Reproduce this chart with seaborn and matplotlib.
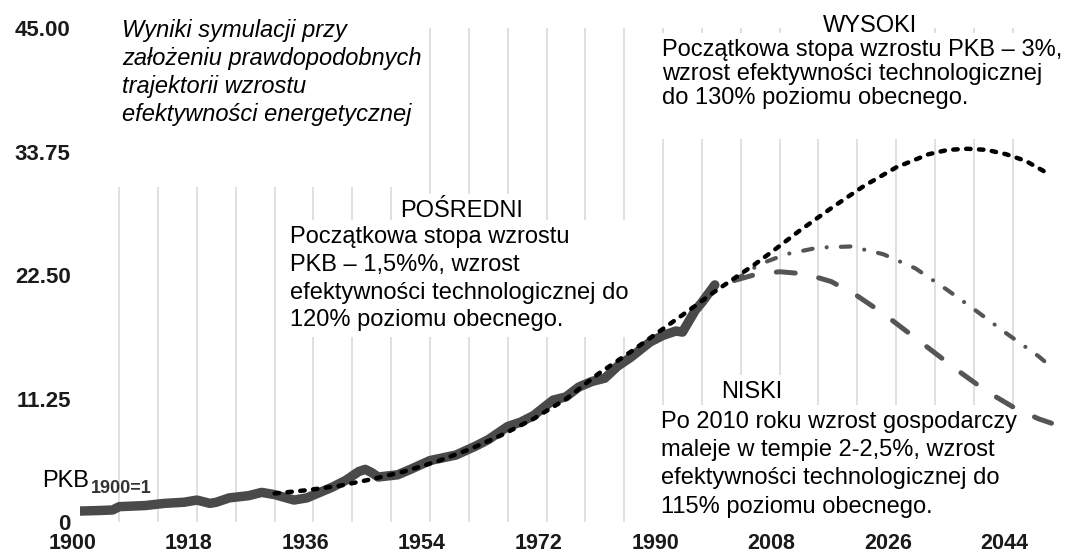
import numpy as np
import pandas as pd
import seaborn as sns
import matplotlib.pyplot as plt
from matplotlib.transforms import ScaledTranslation

# historical GDP index (1900 = 1)
hist_years = [1900, 1903, 1905, 1906, 1910, 1913, 1916, 1918, 1920, 1921, 1923, 1926,
              1928, 1930, 1933, 1935, 1937, 1939, 1941, 1943, 1944, 1945, 1946, 1949,
              1951, 1954, 1958, 1961, 1963, 1966, 1968, 1970, 1973, 1975, 1977, 1979,
              1981, 1983, 1985, 1988, 1990, 1992, 1993, 1995, 1996, 1998]
hist_gdp = [1.0, 1.05, 1.1, 1.4, 1.5, 1.7, 1.8, 2.0, 1.7, 1.8, 2.2, 2.4,
            2.7, 2.5, 2.0, 2.2, 2.7, 3.2, 3.8, 4.6, 4.8, 4.5, 4.1, 4.3,
            4.8, 5.6, 6.1, 6.9, 7.5, 8.7, 9.1, 9.7, 11.1, 11.4, 12.3, 12.8,
            13.1, 14.2, 15.0, 16.4, 17.0, 17.4, 17.3, 19.3, 20.0, 21.6]

# WYSOKI scenario (trend + projection)
high_years = [1930, 1935, 1940, 1945, 1950, 1955, 1960, 1965, 1970, 1975, 1980, 1985,
              1990, 1995, 1998, 2001, 2004, 2007, 2011, 2016, 2021, 2026, 2031, 2034,
              2037, 2040, 2043, 2046, 2049]
high_gdp = [2.6, 2.9, 3.3, 3.9, 4.6, 5.5, 6.6, 7.9, 9.4, 11.2, 13.5, 15.5,
            17.6, 19.7, 21.0, 22.2, 23.4, 24.7, 26.5, 28.6, 30.6, 32.3, 33.5, 33.9,
            34.0, 33.9, 33.5, 32.9, 31.9]

# POŚREDNI scenario
mid_years = [2001, 2005, 2009, 2014, 2019, 2024, 2029, 2034, 2038, 2043, 2048, 2049]
mid_gdp = [22.0, 23.5, 24.4, 25.0, 25.1, 24.4, 23.1, 21.1, 19.4, 17.2, 15.1, 14.6]

# NISKI scenario
low_years = [2001, 2004, 2008, 2012, 2016, 2020, 2024, 2028, 2032, 2036, 2040, 2044, 2048, 2050]
low_gdp = [22.0, 22.5, 22.8, 22.6, 21.9, 20.6, 19.0, 17.2, 15.4, 13.6, 11.9, 10.5, 9.4, 9.0]

x_ticks = [1900, 1918, 1936, 1954, 1972, 1990, 2008, 2026, 2044]
y_ticks = [0, 11.25, 22.5, 33.75, 45]
y_tick_labels = ["0", "11.25", "22.50", "33.75", "45.00"]

sns.set_style("white")
plt.rcParams["font.family"] = ["Liberation Sans", "DejaVu Sans"]

fig = plt.figure(figsize=(10.8, 5.57), dpi=100)
ax = fig.add_axes([0.0744, 0.0628, 0.9052, 0.8869])

sns.lineplot(x=hist_years, y=hist_gdp, ax=ax, color="#4a4a4a", lw=6.8,
             solid_capstyle="round", solid_joinstyle="round", zorder=3)
sns.lineplot(x=low_years, y=low_gdp, ax=ax, color="#555555", lw=3.6,
             linestyle=(0, (3.8, 4.8)), dash_capstyle="round", zorder=4)
sns.lineplot(x=mid_years, y=mid_gdp, ax=ax, color="#555555", lw=3.0,
             linestyle=(0, (2.3, 3.4, 0.01, 3.4)), dash_capstyle="round", zorder=4)
sns.lineplot(x=high_years, y=high_gdp, ax=ax, color="black", lw=3.2,
             linestyle=(0, (1.0, 1.9)), dash_capstyle="round", zorder=5)

ax.set_xlim(1900, 2051)
ax.set_ylim(0, 45)
ax.set_xticks(x_ticks)
ax.set_xticklabels([str(t) for t in x_ticks])
ax.set_yticks(y_ticks)
ax.set_yticklabels(y_tick_labels)
ax.set_xticks(range(1906, 2045, 6), minor=True)
ax.set_yticks([11.25, 22.5, 33.75], minor=True)
ax.xaxis.remove_overlapping_locs = False
ax.grid(False)
ax.grid(which="minor", color="#dddddd", lw=1.3)
ax.set_axisbelow(True)
ax.tick_params(which="both", length=0)
ax.tick_params(axis="x", pad=8)
ax.tick_params(axis="y", pad=7)
for s in ax.spines.values():
    s.set_visible(False)
ax.set_xlabel("")
ax.set_ylabel("")

for lab in ax.get_xticklabels():
    lab.set_fontsize(15.5)
    lab.set_fontweight("bold")
    lab.set_color("#1a1a1a")
    lab.set_transform(lab.get_transform() + ScaledTranslation(-8 / 100, 0, fig.dpi_scale_trans))
for lab in ax.get_yticklabels():
    lab.set_fontsize(16)
    lab.set_fontweight("bold")
    lab.set_color("#1a1a1a")

box = dict(facecolor="white", edgecolor="none", boxstyle="square,pad=0.25")
tk = dict(transform=ax.transAxes, fontsize=17, color="black", bbox=box)

ax.text(0.0426, 1.018, "Wyniki symulacji przy\nzałożeniu prawdopodobnych\n"
        "trajektorii wzrostu\nefektywności energetycznej\n \n ",
        style="italic", ha="left", va="top", linespacing=1.27, zorder=1, **tk)

ax.text(0.5949, 0.978, "Początkowa stopa wzrostu PKB – 3%,\nwzrost efektywności technologicznej\n"
        "do 130% poziomu obecnego.\n ", ha="left", va="top", linespacing=1.12, zorder=1, **tk)
ax.text(0.8077, 0.992, "WYSOKI", ha="center", va="baseline", zorder=1.2, **tk)

ax.text(0.2144, 0.599, "Początkowa stopa wzrostu\nPKB – 1,5%%, wzrost\n"
        "efektywności technologicznej do\n120% poziomu obecnego.",
        ha="left", va="top", linespacing=1.34, zorder=1, **tk)
ax.text(0.3903, 0.6174, "POŚREDNI", ha="center", va="baseline", zorder=1.2, **tk)

ax.text(0.5935, 0.225, "Po 2010 roku wzrost gospodarczy\nmaleje w tempie 2-2,5%, wzrost\n"
        "efektywności technologicznej do\n115% poziomu obecnego.",
        ha="left", va="top", linespacing=1.37, zorder=1, **tk)
ax.text(0.687, 0.251, "NISKI", ha="center", va="baseline", zorder=1.2, **tk)

ax.text(-0.0393, 0.0709, "PKB", transform=ax.transAxes, fontsize=17, color="black",
        ha="left", va="baseline")
ax.text(0.011, 0.0587, "1900=1", transform=ax.transAxes, fontsize=13, fontweight="bold",
        color="#333333", ha="left", va="baseline")

fig.savefig("out.png", dpi=100)
